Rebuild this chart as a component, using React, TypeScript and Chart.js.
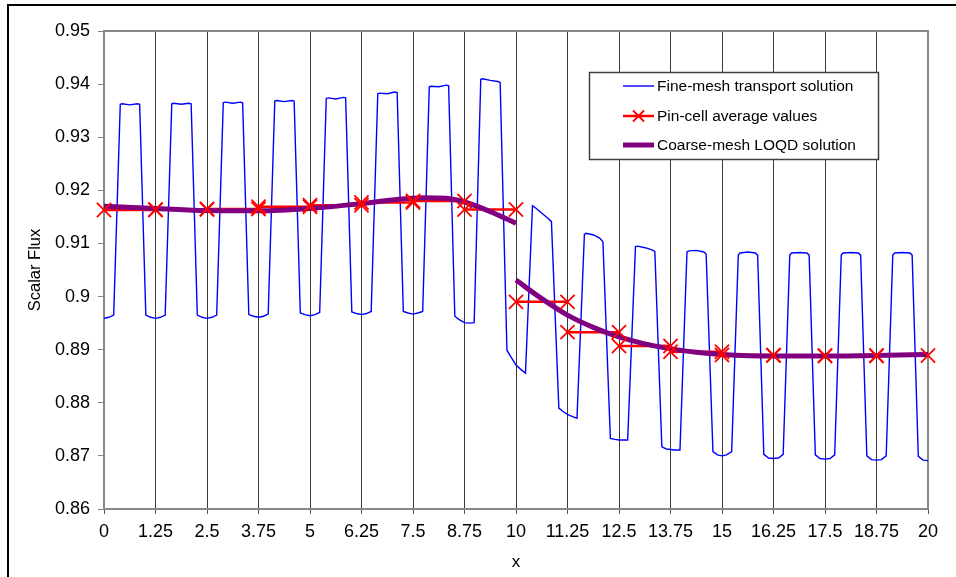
import React, { useEffect, useRef } from 'react';
import { Chart, registerables } from 'chart.js';

Chart.register(...registerables);

const FONT = '"Liberation Sans", Arial, Helvetica, sans-serif';

// Axis ticks
const xTicks = [0, 1.25, 2.5, 3.75, 5, 6.25, 7.5, 8.75, 10, 11.25, 12.5, 13.75, 15, 16.25, 17.5, 18.75, 20];
const yTicks = [0.86, 0.87, 0.88, 0.89, 0.9, 0.91, 0.92, 0.93, 0.94, 0.95];
const yTickLabels = ['0.86', '0.87', '0.88', '0.89', '0.9', '0.91', '0.92', '0.93', '0.94', '0.95'];

// Fine-mesh transport solution
const fineX = [
  0, 0.12, 0.235, 0.395, 0.44, 0.625, 0.81, 0.865, 1.015, 1.13,
  1.25, 1.37, 1.485, 1.645, 1.69, 1.875, 2.06, 2.115, 2.265, 2.38,
  2.5, 2.62, 2.735, 2.895, 2.94, 3.125, 3.31, 3.365, 3.515, 3.63,
  3.75, 3.87, 3.985, 4.145, 4.19, 4.375, 4.56, 4.615, 4.765, 4.88,
  5, 5.12, 5.235, 5.395, 5.44, 5.625, 5.81, 5.865, 6.015, 6.13,
  6.25, 6.37, 6.485, 6.645, 6.69, 6.875, 7.06, 7.115, 7.265, 7.38,
  7.5, 7.62, 7.735, 7.895, 7.94, 8.125, 8.31, 8.365, 8.515, 8.63,
  8.75, 8.87, 8.985, 9.145, 9.19, 9.375, 9.56, 9.615, 9.78, 9.88,
  10, 10.13, 10.23, 10.4, 10.44, 10.63, 10.78, 10.86, 11.04, 11.15,
  11.25, 11.37, 11.48, 11.66, 11.7, 11.885, 12.03, 12.11, 12.29, 12.4,
  12.5, 12.6, 12.71, 12.9, 12.95, 13.135, 13.3, 13.37, 13.54, 13.65,
  13.75, 13.85, 13.98, 14.15, 14.2, 14.375, 14.56, 14.615, 14.78, 14.89,
  15, 15.11, 15.235, 15.395, 15.44, 15.625, 15.81, 15.865, 16.015, 16.13,
  16.25, 16.37, 16.485, 16.645, 16.69, 16.875, 17.06, 17.115, 17.265, 17.38,
  17.5, 17.62, 17.735, 17.895, 17.94, 18.125, 18.31, 18.365, 18.515, 18.63,
  18.75, 18.87, 18.985, 19.145, 19.19, 19.375, 19.56, 19.615, 19.765, 19.88,
  20,
];
const fineY = [
  0.8959, 0.8961, 0.8965, 0.9362, 0.9363, 0.9361, 0.9363, 0.9362, 0.8965, 0.8961,
  0.8959, 0.8961, 0.8965, 0.9363, 0.9364, 0.9362, 0.9364, 0.9363, 0.8965, 0.8961,
  0.8959, 0.8961, 0.8965, 0.9365, 0.9366, 0.9364, 0.9366, 0.9365, 0.8966, 0.8963,
  0.8961, 0.8963, 0.8967, 0.9368, 0.9369, 0.9367, 0.9369, 0.9368, 0.8969, 0.8966,
  0.8964, 0.8966, 0.897, 0.9373, 0.9374, 0.9372, 0.9375, 0.9374, 0.8971, 0.8968,
  0.8966, 0.8968, 0.8972, 0.9382, 0.9383, 0.9382, 0.9385, 0.9384, 0.8972, 0.8969,
  0.8967, 0.8969, 0.8972, 0.9395, 0.9396, 0.9395, 0.9398, 0.9397, 0.8963, 0.8956,
  0.8951, 0.895, 0.8951, 0.9409, 0.941, 0.9407, 0.9405, 0.9403, 0.8899, 0.8886,
  0.8871, 0.8862, 0.8856, 0.9171, 0.9169, 0.9157, 0.9147, 0.9141, 0.879, 0.8783,
  0.8778, 0.8774, 0.8771, 0.9117, 0.9119, 0.9116, 0.911, 0.9103, 0.8733, 0.8731,
  0.873, 0.873, 0.873, 0.9094, 0.9095, 0.9092, 0.9088, 0.9085, 0.8717, 0.8713,
  0.8712, 0.8711, 0.8711, 0.9084, 0.9086, 0.9087, 0.9084, 0.908, 0.8708, 0.8702,
  0.87, 0.8702, 0.8708, 0.9078, 0.9082, 0.9084, 0.9082, 0.9078, 0.8703, 0.8696,
  0.8695, 0.8696, 0.8703, 0.9078, 0.9082, 0.9083, 0.9082, 0.9078, 0.8702, 0.8695,
  0.8694, 0.8695, 0.8702, 0.9078, 0.9082, 0.9083, 0.9082, 0.9078, 0.87, 0.8693,
  0.8692, 0.8693, 0.87, 0.9078, 0.9082, 0.9083, 0.9082, 0.9078, 0.8699, 0.8692,
  0.8691,
];

// Pin-cell average values (one per cell, cells bounded by xTicks)
const pinValues = [
  0.9163, 0.9164, 0.9165, 0.9169, 0.9172, 0.9177, 0.918, 0.9164,
  0.899, 0.8933, 0.8907, 0.8896, 0.889, 0.8889, 0.8888, 0.8889,
];

// Coarse-mesh LOQD solution (two pieces)
const coarseX1 = [0, 1.25, 2.5, 3.75, 5, 6.25, 7, 7.75, 8.3, 8.75, 9.375, 10];
const coarseY1 = [0.917, 0.9166, 0.9162, 0.91615, 0.9166, 0.9175, 0.9182, 0.9186, 0.9185, 0.9178, 0.916, 0.9138];
const coarseX2 = [10, 10.625, 11.25, 11.875, 12.5, 13.125, 13.75, 14.375, 15, 16.25, 17.5, 18.75, 20];
const coarseY2 = [0.9031, 0.8996, 0.8965, 0.8942, 0.8924, 0.8911, 0.8902, 0.8895, 0.8891, 0.8888, 0.8888, 0.8889, 0.8891];

const seriesNames = ['Fine-mesh transport solution', 'Pin-cell average values', 'Coarse-mesh LOQD solution'];

const BLUE = '#0000ff';
const RED = '#ff0000';
const PURPLE = '#800080';

const plotFrame = {
  id: 'plotFrame',
  beforeDatasetsDraw(chart: any) {
    const { ctx, chartArea } = chart;
    ctx.save();
    ctx.strokeStyle = '#888888';
    ctx.lineWidth = 2;
    ctx.strokeRect(chartArea.left, chartArea.top, chartArea.right - chartArea.left, chartArea.bottom - chartArea.top);
    ctx.restore();
  },
};

const boxLegend = {
  id: 'boxLegend',
  afterDraw(chart: any) {
    const ctx = chart.ctx as CanvasRenderingContext2D;
    ctx.save();
    const bx = 589.5, by = 72.5, bw = 289, bh = 87;
    ctx.fillStyle = '#ffffff';
    ctx.fillRect(bx, by, bw, bh);
    ctx.strokeStyle = '#404040';
    ctx.lineWidth = 1.5;
    ctx.strokeRect(bx, by, bw, bh);
    const rows = [86, 116, 145];
    const styles = [
      { color: BLUE, width: 1.4, marker: false },
      { color: RED, width: 2.5, marker: true },
      { color: PURPLE, width: 5, marker: false },
    ];
    const x1 = 623, x2 = 654;
    rows.forEach((ry, i) => {
      const s = styles[i];
      ctx.strokeStyle = s.color;
      ctx.lineWidth = s.width;
      ctx.beginPath();
      ctx.moveTo(x1, ry);
      ctx.lineTo(x2, ry);
      ctx.stroke();
      if (s.marker) {
        const cx = (x1 + x2) / 2, r = 5.5;
        ctx.lineWidth = 1.8;
        ctx.beginPath();
        ctx.moveTo(cx - r, ry - r);
        ctx.lineTo(cx + r, ry + r);
        ctx.moveTo(cx - r, ry + r);
        ctx.lineTo(cx + r, ry - r);
        ctx.stroke();
      }
      ctx.fillStyle = '#000';
      ctx.font = `15.5px ${FONT}`;
      ctx.textBaseline = 'middle';
      ctx.textAlign = 'left';
      ctx.fillText(seriesNames[i], 657, ry + 1);
    });
    ctx.restore();
  },
};

export default function App() {
  const ref = useRef<HTMLCanvasElement>(null);

  useEffect(() => {
    const fineData = fineX.map((x, i) => ({ x, y: fineY[i] }));
    const pinLine: any[] = [];
    const pinMarks: any[] = [];
    pinValues.forEach((v, i) => {
      pinLine.push({ x: xTicks[i], y: v }, { x: xTicks[i + 1], y: v }, { x: xTicks[i + 1], y: null });
      pinMarks.push({ x: xTicks[i], y: v }, { x: xTicks[i + 1], y: v });
    });
    const coarse: any[] = [
      ...coarseX1.map((x, i) => ({ x, y: coarseY1[i] })),
      { x: 10, y: null },
      ...coarseX2.map((x, i) => ({ x, y: coarseY2[i] })),
    ];

    const chart = new Chart(ref.current as HTMLCanvasElement, {
      type: 'line',
      data: {
        datasets: [
          {
            label: seriesNames[0],
            data: fineData,
            borderColor: BLUE,
            borderWidth: 1.4,
            pointRadius: 0,
            tension: 0,
            order: 4,
          },
          {
            label: seriesNames[1],
            data: pinLine,
            borderColor: RED,
            borderWidth: 2.5,
            pointRadius: 0,
            spanGaps: false,
            order: 3,
          },
          {
            label: seriesNames[2],
            data: coarse,
            borderColor: PURPLE,
            borderWidth: 5,
            pointRadius: 0,
            spanGaps: false,
            cubicInterpolationMode: 'monotone',
            order: 2,
          },
          {
            label: 'markers',
            data: pinMarks,
            showLine: false,
            pointStyle: 'crossRot',
            pointRadius: 10,
            borderColor: RED,
            backgroundColor: RED,
            pointBorderWidth: 1.8,
            clip: false,
            order: 1,
          } as any,
        ],
      },
      options: {
        responsive: false,
        animation: false,
        devicePixelRatio: 1,
        layout: { padding: { left: 0, right: 28, top: 31, bottom: 0 } },
        plugins: { legend: { display: false }, tooltip: { enabled: false } },
        scales: {
          x: {
            type: 'linear',
            min: 0,
            max: 20,
            afterBuildTicks: (s: any) => {
              s.ticks = xTicks.map((v) => ({ value: v }));
            },
            afterFit: (s: any) => {
              s.height = 68;
            },
            ticks: {
              autoSkip: false,
              maxRotation: 0,
              padding: 7,
              color: '#000',
              font: { family: FONT, size: 18 },
              callback: (v: any) => String(v),
            },
            grid: {
              color: '#3a3a3a',
              lineWidth: 1,
              tickLength: 5,
              tickColor: '#555',
            },
            border: { display: false },
            title: {
              display: true,
              text: 'x',
              color: '#000',
              font: { family: FONT, size: 17 },
              padding: { top: 0, bottom: 4 },
            },
          },
          y: {
            type: 'linear',
            min: 0.86,
            max: 0.95,
            afterBuildTicks: (s: any) => {
              s.ticks = yTicks.map((v) => ({ value: v }));
            },
            afterFit: (s: any) => {
              s.width = 104;
            },
            ticks: {
              padding: 8,
              color: '#000',
              font: { family: FONT, size: 18 },
              callback: (_v: any, i: number) => yTickLabels[i],
            },
            grid: {
              drawOnChartArea: false,
              tickLength: 6,
              color: '#808080',
              tickColor: '#808080',
            },
            border: { display: false },
            title: {
              display: true,
              text: 'Scalar Flux',
              color: '#000',
              font: { family: FONT, size: 16.5 },
              padding: { top: 26, bottom: 0 },
            },
          },
        },
      },
      plugins: [plotFrame, boxLegend],
    } as any);
    return () => chart.destroy();
  }, []);

  return (
    <div style={{ position: 'absolute', left: 0, top: 0, width: 956, height: 577, overflow: 'hidden', background: '#fff' }}>
      <canvas ref={ref} width={956} height={577} style={{ position: 'absolute', left: 0, top: 0 }} />
      <div
        style={{
          position: 'absolute',
          left: 7,
          top: 4,
          width: 1000,
          height: 1000,
          borderLeft: '2px solid #000',
          borderTop: '2px solid #000',
          pointerEvents: 'none',
        }}
      />
    </div>
  );
}
